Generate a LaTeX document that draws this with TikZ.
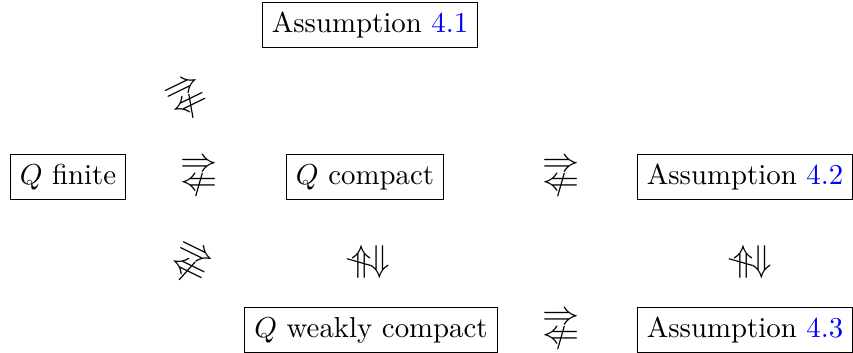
\documentclass[tikz,border=0pt]{standalone}
\usepackage{graphicx}
\newcommand{\negslash}{\raisebox{-1.9pt}{\rotatebox{74}{\rule{7.3pt}{0.35pt}}}}
\newcommand{\impnot}{\scalebox{1.15}{\vbox{\baselineskip=5.5pt\lineskiplimit=-20pt
  \hbox{\scalebox{1.12}[1]{$\Rightarrow$}}
  \hbox{\ooalign{\scalebox{1.12}[1]{$\Leftarrow$}\cr\hidewidth\negslash\hidewidth\cr}}}}}
\begin{document}
\begin{tikzpicture}[x=0.347pt,y=-0.347pt,
  box/.style={draw,line width=0.45pt,inner sep=3.33pt,text height=6.9pt,text depth=2pt},
  rel/.style={inner sep=0pt}]
\useasboundingbox (0,0) rectangle (853,353);
\node[box] (a1) at (370,25) {Assumption \textcolor{blue}{4.1}};
\node[box] (qf) at (68,177) {$Q$ finite};
\node[box] (qc) at (365,177) {$Q$ compact};
\node[box] (a2) at (745,177) {Assumption \textcolor{blue}{4.2}};
\node[box] (qw) at (371,330) {$Q$ weakly compact};
\node[box] (a3) at (745,330) {Assumption \textcolor{blue}{4.3}};
\node[rel] (r1) at (199,178) {\impnot};
\node[rel] (r2) at (561,178) {\impnot};
\node[rel] (r3) at (561,331) {\impnot};
\node[rel,rotate=26] (r4) at (188,100) {\impnot};
\node[rel,rotate=-26] (r5) at (190,265) {\impnot};
\node[rel,rotate=-90] (r6) at (365,262) {\impnot};
\node[rel,rotate=-90] (r7) at (747,262) {\impnot};
\end{tikzpicture}
\end{document}
